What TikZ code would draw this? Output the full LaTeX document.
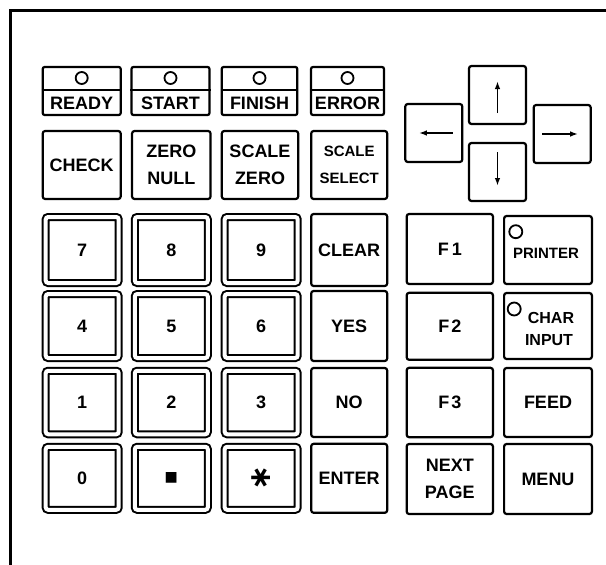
\documentclass[tikz,border=0pt]{standalone}
\usepackage{fontspec}
\newfontfamily\kf{Liberation Sans}
\newfontfamily\dv{DejaVu Sans}
\tikzset{
  skey/.style={draw, line width=2.2pt, rounded corners=2.5pt, inner sep=0pt, align=center,
    font=\kf\bfseries\fontsize{18}{27}\selectfont},
  dkey/.style={draw, line width=2pt, double, double distance=4pt, rounded corners=2.5pt,
    inner sep=0pt, align=center, font=\kf\bfseries\fontsize{18}{27}\selectfont},
  ind/.style={draw, line width=2.2pt, rounded corners=2pt, inner sep=0pt, minimum height=48},
  led/.style={draw, circle, line width=1.8pt, inner sep=0pt, minimum size=12},
  lbl/.style={inner sep=0pt, align=center, font=\kf\bfseries\fontsize{18}{27}\selectfont},
  indlbl/.style={inner sep=0pt, font=\kf\bfseries\fontsize{18}{24}\selectfont},
  arr/.style={line width=1.8pt, -{Latex[length=8pt,width=5.5pt]}},
  divline/.style={line width=2pt},
}
\usetikzlibrary{arrows.meta}
\begin{document}
\begin{tikzpicture}[x=1pt,y=-1pt]
\useasboundingbox (0,0) rectangle (606,565);
\fill[white] (0,0) rectangle (606,565);
% frame
\coordinate (fbl) at (10.5,565);
\coordinate (ftl) at (10.5,10.3);
\coordinate (ftr) at (606,10.3);
\draw[line width=3pt] (fbl) -- (ftl) -- (ftr);

% indicators
\coordinate (divy) at (0,90);
\node[ind, minimum width=78] (rdy) at (81.7,91) {};
\node[ind, minimum width=78] (sta) at (170.5,91) {};
\node[ind, minimum width=75.6] (fin) at (259.5,91) {};
\node[ind, minimum width=73] (err) at (347.5,91) {};
\foreach \n in {rdy,sta,fin,err}{
  \draw[divline] (\n.west |- divy) -- (\n.east |- divy);
}
\node[led] (rdyled) at (81.7,78) {};
\node[led] (staled) at (170.5,78) {};
\node[led] (finled) at (259.5,78) {};
\node[led] (errled) at (347.5,78) {};
\node[indlbl] (rdylbl) at (81.7,103.3) {READY};
\node[indlbl] (stalbl) at (170.5,103.3) {START};
\node[indlbl] (finlbl) at (259.5,103.3) {FINISH};
\node[indlbl] (errlbl) at (347.5,103.3) {ERROR};

% row A
\node[skey, minimum width=78, minimum height=68] (chk) at (81.7,165) {CHECK};
\node[skey, minimum width=78.5, minimum height=68] (zn) at (171.3,165) {ZERO\\NULL};
\node[skey, minimum width=76.4, minimum height=68] (sz) at (260,165) {SCALE\\ZERO};
\node[skey, minimum width=76, minimum height=68, font=\kf\bfseries\fontsize{15}{27}\selectfont] (ss) at (349.2,165) {SCALE\\SELECT};

% arrow keys
\node[skey, minimum width=57, minimum height=58] (kl) at (433.8,133) {};
\node[skey, minimum width=57, minimum height=58] (ku) at (497.5,95) {};
\node[skey, minimum width=57, minimum height=58] (kr) at (562.2,134) {};
\node[skey, minimum width=57, minimum height=58] (kd) at (497.5,172) {};
\draw[arr] ([xshift=19pt]kl.center) -- ([xshift=-15pt]kl.center);
\draw[arr] ([xshift=-20pt]kr.center) -- ([xshift=16pt]kr.center);
\draw[arr] ([yshift=-18pt]ku.center) -- ([yshift=14pt]ku.center);
\draw[arr] ([yshift=20pt]kd.center) -- ([yshift=-14pt]kd.center);

% number keys
\node[dkey, minimum width=73, minimum height=66] (k7) at (82.2,250) {7};
\node[dkey, minimum width=73, minimum height=66] (k8) at (171.3,250) {8};
\node[dkey, minimum width=73, minimum height=66] (k9) at (261.2,250) {9};
\node[dkey, minimum width=73, minimum height=64] (k4) at (82.2,326) {4};
\node[dkey, minimum width=73, minimum height=64] (k5) at (171.3,326) {5};
\node[dkey, minimum width=73, minimum height=64] (k6) at (261.2,326) {6};
\node[dkey, minimum width=73, minimum height=63.5] (k1) at (82.2,402.5) {1};
\node[dkey, minimum width=73, minimum height=63.5] (k2) at (171.3,402.5) {2};
\node[dkey, minimum width=73, minimum height=63.5] (k3) at (261.2,402.5) {3};
\node[dkey, minimum width=73, minimum height=63] (k0) at (82.2,478.3) {0};
\node[dkey, minimum width=73, minimum height=63] (kdot) at (171.3,478.3) {};
\node[dkey, minimum width=73, minimum height=63] (kast) at (261.2,478.3) {};
\node[inner sep=0pt, font=\dv\fontsize{14}{14}\selectfont] (dotlbl) at (171.3,478.3) {■};
\node[inner sep=0pt, rotate=90, font=\dv\bfseries\fontsize{30}{30}\selectfont] (astlbl) at (261.2,478.3) {∗};

% column 4
\node[skey, minimum width=76, minimum height=72] (clr) at (349.2,250) {CLEAR};
\node[skey, minimum width=76, minimum height=70] (yes) at (349.2,326) {YES};
\node[skey, minimum width=76, minimum height=69] (no) at (349.2,402.5) {NO};
\node[skey, minimum width=76, minimum height=69] (ent) at (349.2,478.3) {ENTER};

% right block
\node[skey, minimum width=86.3, minimum height=70] (f1) at (449.8,249) {F\hspace{3pt}1};
\node[skey, minimum width=86.3, minimum height=67] (f2) at (449.8,326.3) {F\hspace{2pt}2};
\node[skey, minimum width=86.3, minimum height=69.4] (f3) at (449.8,402.5) {F\hspace{2pt}3};
\node[skey, minimum width=86.3, minimum height=70] (np) at (449.8,479) {NEXT\\PAGE};
\node[skey, minimum width=87.8, minimum height=68] (prt) at (548,250) {};
\node[skey, minimum width=87.8, minimum height=66] (chr) at (548,326) {};
\node[skey, minimum width=87.8, minimum height=69] (feed) at (548,402.5) {FEED};
\node[skey, minimum width=87.8, minimum height=70] (menu) at (548,479) {MENU};
\node[led, minimum size=13] (prtled) at (515.8,231.7) {};
\node[lbl, font=\kf\bfseries\fontsize{15}{20}\selectfont] (prtlbl) at (546,253.8) {PRINTER};
\node[led, minimum size=13] (chrled) at (514.2,309) {};
\node[lbl, font=\kf\bfseries\fontsize{16}{20}\selectfont] (chrlbl) at (551,317.5) {CHAR};
\node[lbl, font=\kf\bfseries\fontsize{16}{20}\selectfont] (inplbl) at (549,340) {INPUT};
\end{tikzpicture}
\end{document}
